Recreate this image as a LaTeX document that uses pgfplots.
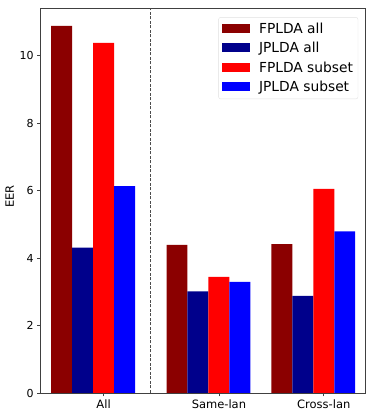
\documentclass[border=0pt]{standalone}
\usepackage{fontspec}
\setmainfont{DejaVu Sans}
\usepackage{pgfplots}
\pgfplotsset{compat=1.18}
\definecolor{fall}{HTML}{8B0000}
\definecolor{jall}{HTML}{00008B}
\definecolor{fsub}{HTML}{FF0000}
\definecolor{jsub}{HTML}{0000FF}
\definecolor{spine}{HTML}{404040}
\begin{document}
\begin{tikzpicture}
\begin{axis}[
    scale only axis,
    width=325pt, height=385pt,
    xmin=-0.5, xmax=2.6,
    ymin=0, ymax=11.41,
    ybar, bar width=0.2, bar shift=0pt,
    xtick={0.1,1.2,2.2},
    xticklabels={All,Same-lan,Cross-lan},
    ytick={0,2,4,6,8,10},
    tick align=outside, xtick pos=bottom, ytick pos=left,
    major tick length=3.5pt,
    tick style={spine, line width=0.8pt},
    axis line style={spine, line width=0.8pt},
    /pgf/number format/assume math mode=true,
    xticklabel style={font=\fontsize{11.5}{13}\selectfont},
    yticklabel style={font=\fontsize{11}{13}\selectfont},
    ylabel={EER},
    ylabel style={font=\fontsize{11.5}{13}\selectfont, yshift=-1pt, xshift=4pt},
    legend style={at={(0.977,0.976)}, anchor=north east, draw=black!12,
        rounded corners=2pt, font=\fontsize{13.8}{16}\selectfont,
        row sep=3.5pt, inner xsep=3pt, inner ysep=3.5pt,
        /tikz/every odd column/.append style={column sep=0pt}},
    legend cell align=left,
    legend image code/.code={\fill[#1, sharp corners] (0pt,-4pt) rectangle (28.5pt,5pt);
        \path (35.5pt,0pt);},
]
\addplot[fill=fall, draw=none] coordinates {(-0.3,10.88) (0.8,4.39) (1.8,4.41)};
\addlegendentry{FPLDA all}
\addplot[fill=jall, draw=none] coordinates {(-0.1,4.31) (1.0,3.01) (2.0,2.88)};
\addlegendentry{JPLDA all}
\addplot[fill=fsub, draw=none] coordinates {(0.1,10.38) (1.2,3.44) (2.2,6.05)};
\addlegendentry{FPLDA subset}
\addplot[fill=jsub, draw=none] coordinates {(0.3,6.13) (1.4,3.29) (2.4,4.79)};
\addlegendentry{JPLDA subset}
\draw[black!70, line width=0.8pt, dash pattern=on 3pt off 1.5pt]
    (axis cs:0.55,0) -- (axis cs:0.55,11.41);
\end{axis}
\path[use as bounding box] (current axis.south west) ++(-40.7pt,-22pt)
    rectangle ([shift={(8.3pt,8pt)}]current axis.north east);
\end{tikzpicture}
\end{document}
